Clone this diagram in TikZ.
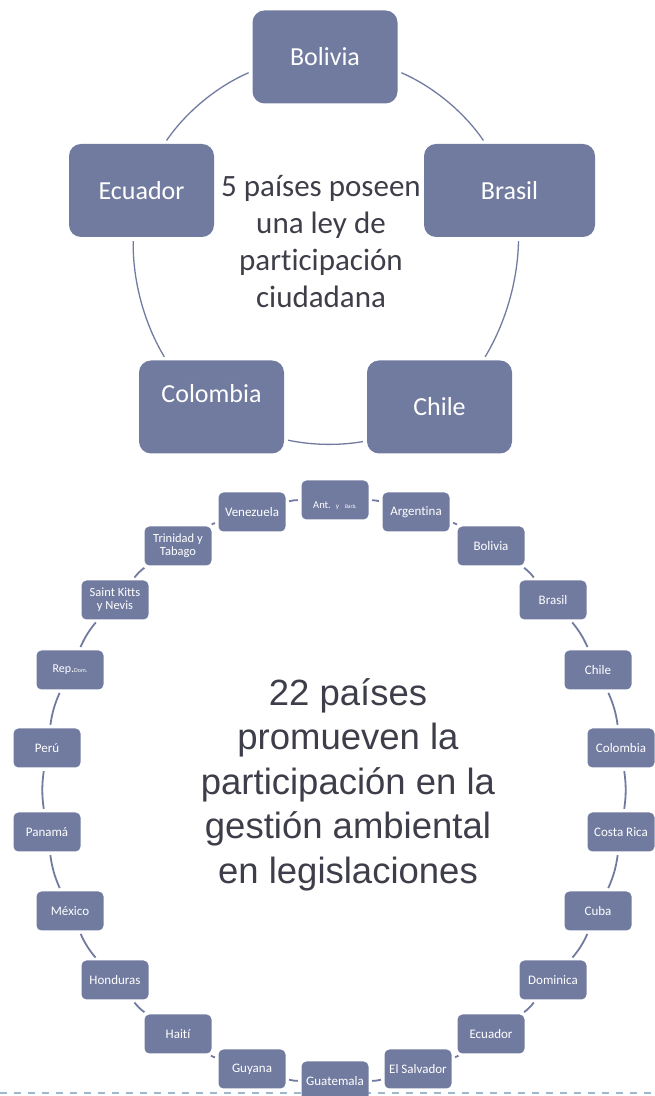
\documentclass[tikz,border=0pt]{standalone}
\usepackage{fontspec}
\setmainfont{Carlito}[Ligatures=CommonOff]
\newfontfamily\arialfont{Liberation Sans}
\usepackage{tikz}
\usetikzlibrary{calc,shapes,positioning}
\definecolor{boxblue}{RGB}{113,123,160}
\definecolor{textgray}{RGB}{62,62,74}
\definecolor{dashblue}{RGB}{160,184,204}

\begin{document}
\begin{tikzpicture}[x=1pt,y=1pt]

           \tikzstyle{every edge}=[-,shorten >=4pt,shorten <=4pt,draw,line width=1.3pt,boxblue,looseness=0.87]
           \tikzstyle{ring}=[bend left=8,line width=1.8pt,shorten >=3.5pt,shorten <=3.5pt,looseness=1]
           \tikzstyle{bigbox}=[rectangle,rounded corners=12pt,fill=boxblue,text=white,minimum width=145pt,minimum height=93pt,inner sep=2pt,font=\fontsize{26}{31}\selectfont]
           \tikzstyle{smallbox}=[rectangle,rounded corners=5pt,fill=boxblue,text=white,minimum width=67pt,minimum height=39pt,inner sep=1pt,align=center,font=\fontsize{13}{13}\selectfont]

   \useasboundingbox (0,0) rectangle (654,1096);

   \coordinate (D1) at (0,3);
   \coordinate (D2) at (654,3);
   \draw[dashblue,line width=2pt,dash pattern=on 7.3pt off 6.7pt] (D1) -- (D2);

   \node[bigbox] (L1) at (325,1039) {Bolivia};
   \node[bigbox, minimum width=171pt] (L2) at (509.5,905.5) {Brasil};
   \node[bigbox] (L3) at (439.5,689) {Chile};
   \node[bigbox, text depth=28pt] (L4) at (211.5,689) {Colombia};
   \node[bigbox] (L5) at (141.5,905.5) {Ecuador};
   \node[text=textgray, align=center, font=\fontsize{31}{37}\selectfont] (T1) at (321,854.5) {5 países poseen\\una ley de\\participación\\ciudadana};
    \path (L1.-11) edge[bend left=16] (L2.117);
    \path (L2.-79) edge[bend left=15] (L3.47);
    \path (L3.205) edge[bend left=11] (L4.-24);
    \path (L4.134) edge[bend left=16] (L5.-100);
    \path (L5.64) edge[bend left=16] (L1.191);

   \node[smallbox, text height=19pt] (G1) at (335,596) {{\fontsize{10.5}{12}\selectfont Ant.}\hspace{5pt}{\fontsize{7}{8}\selectfont y}\hspace{6pt}{\fontsize{5.5}{6}\selectfont Barb.}};
   \node[smallbox] (G2) at (416,584) {Argentina};
   \node[smallbox] (G3) at (491,550) {Bolivia};
   \node[smallbox] (G4) at (553,496) {Brasil};
   \node[smallbox] (G5) at (598,426) {Chile};
   \node[smallbox] (G6) at (621,348) {Colombia};
   \node[smallbox] (G7) at (621,264) {Costa Rica};
   \node[smallbox] (G8) at (598,185) {Cuba};
   \node[smallbox] (G9) at (553,116) {Dominica};
   \node[smallbox] (G10) at (491,62) {Ecuador};
   \node[smallbox] (G11) at (418,27) {El Salvador};
   \node[smallbox] (G12) at (335,15) {Guatemala};
   \node[smallbox] (G13) at (252,27) {Guyana};
   \node[smallbox] (G14) at (178,62) {Haití};
   \node[smallbox] (G15) at (115,116) {Honduras};
   \node[smallbox] (G16) at (70,185) {México};
   \node[smallbox] (G17) at (47,264) {Panamá};
   \node[smallbox] (G18) at (47,348) {Perú};
   \node[smallbox] (G19) at (70,426) {{\fontsize{12}{13}\selectfont Rep.}{\fontsize{6}{7}\selectfont Dom.}};
   \node[smallbox, font=\fontsize{12.5}{13}\selectfont] (G20) at (115,496) {Saint Kitts\\y Nevis};
   \node[smallbox, font=\fontsize{12.5}{13}\selectfont] (G21) at (178,550) {Trinidad y\\Tabago};
   \node[smallbox] (G22) at (252,584) {Venezuela};
   \node[text=textgray, align=center, font=\arialfont\fontsize{36.5}{44.5}\selectfont] (T2) at (348,311.5) {22 países\\promueven la\\participación en la\\gestión ambiental\\en legislaciones};
    \path (G1) edge[ring] (G2);
    \path (G2) edge[ring] (G3);
    \path (G3) edge[ring] (G4);
    \path (G4) edge[ring] (G5);
    \path (G5) edge[ring] (G6);
    \path (G6) edge[ring] (G7);
    \path (G7) edge[ring] (G8);
    \path (G8) edge[ring] (G9);
    \path (G9) edge[ring] (G10);
    \path (G10) edge[ring] (G11);
    \path (G11) edge[ring] (G12);
    \path (G12) edge[ring] (G13);
    \path (G13) edge[ring] (G14);
    \path (G14) edge[ring] (G15);
    \path (G15) edge[ring] (G16);
    \path (G16) edge[ring] (G17);
    \path (G17) edge[ring] (G18);
    \path (G18) edge[ring] (G19);
    \path (G19) edge[ring] (G20);
    \path (G20) edge[ring] (G21);
    \path (G21) edge[ring] (G22);
    \path (G22) edge[ring] (G1);
 \end{tikzpicture}
\end{document}
